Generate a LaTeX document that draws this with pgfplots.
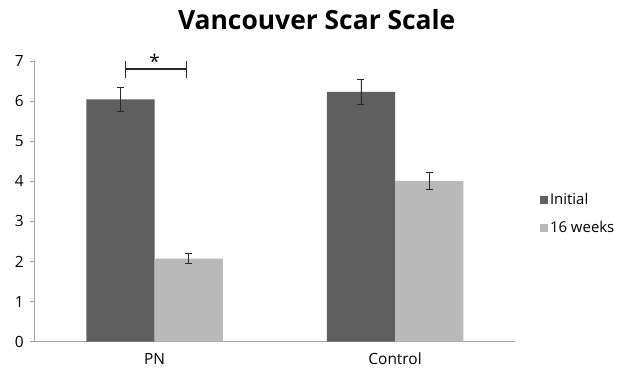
\documentclass[border=0pt]{standalone}
\usepackage{fontspec}
\setmainfont{Open Sans}
\usepackage{pgfplots}
\pgfplotsset{compat=1.18}
\definecolor{darkbar}{HTML}{5F5F5F}
\definecolor{lightbar}{HTML}{B9B9B9}
\definecolor{axisgray}{HTML}{A6A6A6}
\definecolor{errc}{HTML}{2A2A2A}
\begin{document}
\begin{tikzpicture}
\useasboundingbox (-34.3bp,-33.3bp) rectangle (583.7bp,341.7bp);
\begin{axis}[
  at={(0,0)}, anchor=south west,
  scale only axis,
  width=481bp, height=280.7bp,
  xmin=-0.5, xmax=1.5, ymin=0, ymax=7,
  clip=false,
  ybar=0pt,
  bar width=68.3bp,
  axis x line*=bottom, axis y line*=left,
  axis line style={draw=axisgray, line width=0.8pt, -},
  xtick={0,1}, xticklabels={PN, Control},
  major x tick style={draw=none},
  extra x ticks={-0.5,0.5,1.5}, extra x tick labels={},
  extra x tick style={tick style={draw=axisgray, line width=0.8pt}, major tick length=4bp, tick align=outside},
  ytick={0,1,...,7},
  tick align=outside, major tick length=4bp,
  y tick style={draw=axisgray, line width=0.8pt},
  tick label style={font=\fontsize{15.5}{17}\selectfont},
  /pgf/number format/assume math mode=true,
  yticklabel style={xshift=-3bp},
  xticklabel style={yshift=-4bp},
  legend style={at={(1.051,0.455)}, anchor=west, draw=none, fill=none,
    inner sep=0pt, row sep=11bp, font=\fontsize{15}{17}\selectfont,
    cells={anchor=west}},
  legend image code/.code={\fill[#1] (0bp,-4bp) rectangle (8bp,4bp);},
  error bars/error bar style={color=errc, line width=0.8pt},
  error bars/error mark options={rotate=90, mark size=3.5bp, color=errc, line width=0.8pt},
]
\addplot[fill=darkbar, draw=none,
  error bars/.cd, y dir=both, y explicit]
  coordinates {(0,6.04) +- (0,0.29) (1,6.23) +- (0,0.30)};
\addlegendentry{Initial}
\addplot[fill=lightbar, draw=none,
  error bars/.cd, y dir=both, y explicit]
  coordinates {(0,2.07) +- (0,0.12) (1,4.01) +- (0,0.20)};
\addlegendentry{16 weeks}
\draw[errc, line width=1.1pt] (axis cs:-0.121,6.58) -- (axis cs:-0.121,7.0)
  (axis cs:-0.121,6.8) -- (axis cs:0.134,6.8)
  (axis cs:0.134,6.58) -- (axis cs:0.134,7.0);
\node[font=\fontsize{19}{20}\selectfont, inner sep=0pt] at (axis cs:0.0,7.0) {*};
\end{axis}
\node[font=\bfseries\fontsize{26.5}{30}\selectfont, anchor=base] at (282.4bp,311.7bp) {Vancouver Scar Scale};
\end{tikzpicture}
\end{document}
